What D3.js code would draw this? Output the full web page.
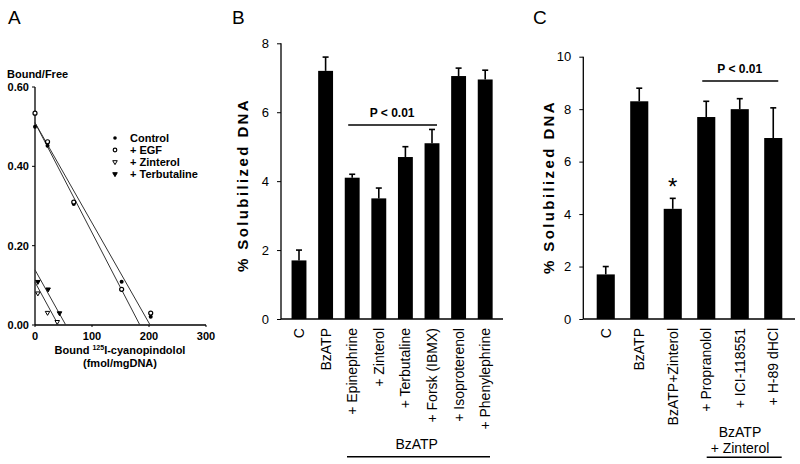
<!DOCTYPE html>
<html><head><meta charset="utf-8">
<script src="https://cdn.jsdelivr.net/npm/d3@7"></script>
<style>
body{margin:0;background:#fff;}
text{font-family:"Liberation Sans",Arial,sans-serif;fill:#000;}
</style></head><body>
<svg id="c" width="800" height="464"></svg>
<script>
// ---------- Panel A data (Scatchard) ----------
const aSeries = ["Control", "+ EGF", "+ Zinterol", "+ Terbutaline"];
const aControl = [[0,0.50],[22,0.452],[68,0.305],[152,0.109],[203,0.021]];
const aEGF = [[0,0.534],[22,0.462],[68,0.31],[152,0.09],[203,0.03]];
const aZinterol = [[5,0.08],[22,0.031],[39,0.008]];
const aTerbutaline = [[5,0.109],[23,0.09],[43,0.03]];
// fitted lines: [x0,y0,x1,y1]
const aLines = [[0,0.51,184,0],[0,0.51,202,0],[0,0.139,54,0],[0,0.108,41,0]];
const aXTicks = [0,100,200,300];
const aYTicks = [0,0.2,0.4,0.6];

// ---------- Panel B data ----------
const bCats = ["C","BzATP","+ Epinephrine","+ Zinterol","+ Terbutaline","+ Forsk (IBMX)","+ Isoproterenol","+ Phenylephrine"];
const bVals = [1.7,7.2,4.1,3.5,4.7,5.1,7.05,6.95];
const bErr  = [0.3,0.4,0.1,0.3,0.3,0.4,0.23,0.27];
const bTicks = [0,2,4,6,8];

// ---------- Panel C data ----------
const cCats = ["C","BzATP","BzATP+Zinterol","+ Propranolol","+ ICI-118551","+ H-89 dHCl"];
const cVals = [1.7,8.3,4.2,7.7,8.0,6.9];
const cErr  = [0.3,0.5,0.4,0.6,0.4,1.15];
const cTicks = [0,2,4,6,8,10];

const svg = d3.select("#c");

// panel letters
[["A",8,24],["B",232,24],["C",533,24]].forEach(d=>{
  svg.append("text").attr("x",d[1]).attr("y",d[2]).attr("font-size",19).text(d[0]);
});

// ================= Panel A =================
(function(){
  const x = d3.scaleLinear().domain([0,300]).range([35,206]);
  const y = d3.scaleLinear().domain([0,0.6]).range([325,87]);
  const g = svg.append("g");
  g.append("line").attr("x1",x(0)).attr("x2",x(0)).attr("y1",y(0)).attr("y2",y(0.6)).attr("stroke","#000").attr("stroke-width",1.3);
  g.append("line").attr("x1",x(0)).attr("x2",x(300)).attr("y1",y(0)).attr("y2",y(0)).attr("stroke","#000").attr("stroke-width",1.3);
  aYTicks.forEach(t=>{
    g.append("line").attr("x1",x(0)-3).attr("x2",x(0)).attr("y1",y(t)).attr("y2",y(t)).attr("stroke","#000");
    g.append("text").attr("x",29).attr("y",y(t)+4).attr("text-anchor","end").attr("font-size",11).attr("font-weight","bold").text(d3.format(".2f")(t));
  });
  aXTicks.forEach(t=>{
    g.append("line").attr("x1",x(t)).attr("x2",x(t)).attr("y1",y(0)).attr("y2",y(0)+2).attr("stroke","#000");
    g.append("text").attr("x",x(t)).attr("y",y(0)+15).attr("text-anchor","middle").attr("font-size",11).attr("font-weight","bold").text(t);
  });
  g.append("text").attr("x",7).attr("y",78).attr("font-size",11).attr("font-weight","bold").text("Bound/Free");
  const xl = g.append("text").attr("x",120).attr("y",354).attr("text-anchor","middle").attr("font-size",11).attr("font-weight","bold");
  xl.append("tspan").text("Bound ");
  xl.append("tspan").attr("font-size",7).attr("dy",-4).text("125");
  xl.append("tspan").attr("dy",4).text("I-cyanopindolol");
  g.append("text").attr("x",120).attr("y",367).attr("text-anchor","middle").attr("font-size",11).attr("font-weight","bold").text("(fmol/mgDNA)");

  aLines.forEach(l=>{
    g.append("line").attr("x1",x(l[0])).attr("y1",y(l[1])).attr("x2",x(l[2])).attr("y2",y(l[3])).attr("stroke","#333").attr("stroke-width",1);
  });
  const tri = d3.symbol().type(d3.symbolTriangle).size(9);
  function drawPts(data, kind){
    data.forEach(p=>{
      const cx=x(p[0]), cy=y(p[1]);
      if(kind===0) g.append("circle").attr("cx",cx).attr("cy",cy).attr("r",2).attr("fill","#000");
      else if(kind===1) g.append("circle").attr("cx",cx).attr("cy",cy).attr("r",2).attr("fill","#fff").attr("stroke","#000").attr("stroke-width",1.2);
      else g.append("path").attr("d",tri).attr("transform",`translate(${cx},${cy}) rotate(180)`).attr("fill",kind===3?"#000":"#fff").attr("stroke","#000").attr("stroke-width",1);
    });
  }
  drawPts(aControl,0); drawPts(aEGF,1); drawPts(aZinterol,2); drawPts(aTerbutaline,3);
  // legend
  aSeries.forEach((s,i)=>{
    const ly = 138 + i*12;
    const lx = 115;
    if(i===0) g.append("circle").attr("cx",lx).attr("cy",ly).attr("r",1.8).attr("fill","#000");
    else if(i===1) g.append("circle").attr("cx",lx).attr("cy",ly).attr("r",1.8).attr("fill","#fff").attr("stroke","#000").attr("stroke-width",1.2);
    else g.append("path").attr("d",tri).attr("transform",`translate(${lx},${ly}) rotate(180)`).attr("fill",i===3?"#000":"#fff").attr("stroke","#000").attr("stroke-width",1);
    g.append("text").attr("x",130).attr("y",ly+4).attr("font-size",11).attr("font-weight","bold").text(s);
  });
})();

// ================= Bar panels =================
function barPanel(o){
  const x = d3.scaleBand().domain(o.cats).range(o.xr).paddingInner(o.pad).paddingOuter(o.pad/2);
  const y = d3.scaleLinear().domain([0,o.ymax]).range([319,o.ytop]);
  const g = svg.append("g");
  // axes
  const ya = g.append("g").attr("transform",`translate(${o.axX},0)`).call(d3.axisLeft(y).tickValues(o.ticks).tickSize(4).tickPadding(8).tickFormat(d3.format("d")));
  ya.select(".domain").attr("d",`M0,${y(0)}V${y(o.ymax)}`).attr("stroke-width",1.3);
  ya.selectAll("text").attr("font-size",13).attr("font-family","Liberation Sans, Arial, sans-serif").attr("fill","#000");
  g.append("line").attr("x1",o.axX).attr("x2",o.axEnd).attr("y1",y(0)).attr("y2",y(0)).attr("stroke","#000").attr("stroke-width",1.5);
  // bars
  o.cats.forEach((c,i)=>{
    const bx = x(c), bw = x.bandwidth(), cx = bx + bw/2;
    g.append("rect").attr("x",bx).attr("y",y(o.vals[i])).attr("width",bw).attr("height",y(0)-y(o.vals[i])).attr("fill","#000");
    g.append("line").attr("x1",cx).attr("x2",cx).attr("y1",y(o.vals[i])).attr("y2",y(o.vals[i]+o.err[i])).attr("stroke","#000").attr("stroke-width",1.6);
    g.append("line").attr("x1",cx-3).attr("x2",cx+3).attr("y1",y(o.vals[i]+o.err[i])).attr("y2",y(o.vals[i]+o.err[i])).attr("stroke","#000").attr("stroke-width",1.6);
    g.append("text").attr("transform",`translate(${cx+5},328) rotate(-90)`).attr("text-anchor","end").attr("font-size",14).text(c);
  });
  // y label
  g.append("text").attr("transform",`translate(${o.labX},${o.labY}) rotate(-90)`).attr("text-anchor","middle").attr("font-size",15).attr("font-weight","bold").attr("letter-spacing",2.4).text("% Solubilized  DNA");
  // significance
  const p = o.sig;
  g.append("line").attr("x1",x(p.from)+x.bandwidth()/2-4).attr("x2",x(p.to)+x.bandwidth()/2+5).attr("y1",p.y).attr("y2",p.y).attr("stroke","#000").attr("stroke-width",1.4);
  g.append("text").attr("x",(x(p.from)+x(p.to)+x.bandwidth())/2).attr("y",p.y-8).attr("text-anchor","middle").attr("font-size",12).attr("font-weight","bold").text("P < 0.01");
  // group label
  const gl = o.group;
  gl.lines.forEach((t,k)=>{
    g.append("text").attr("x",gl.cx).attr("y",gl.y0+k*16).attr("text-anchor","middle").attr("font-size",14).text(t);
  });
  g.append("line").attr("x1",gl.x1).attr("x2",gl.x2).attr("y1",gl.ly).attr("y2",gl.ly).attr("stroke","#000").attr("stroke-width",1.5);
  return {x,y,g};
}

barPanel({cats:bCats, vals:bVals, err:bErr, ticks:bTicks, ymax:8, ytop:43.3,
  xr:[285.7,498.5], pad:0.44, axX:281, axEnd:503, labX:247.5, labY:185,
  sig:{from:"+ Epinephrine", to:"+ Forsk (IBMX)", y:125},
  group:{lines:["BzATP"], cx:416.7, y0:449, x1:347, x2:490, ly:456.7}});

const pc = barPanel({cats:cCats, vals:cVals, err:cErr, ticks:cTicks, ymax:10, ytop:56.7,
  xr:[589,790], pad:0.46, axX:583.3, axEnd:795, labX:553.5, labY:187,
  sig:{from:"+ Propranolol", to:"+ H-89 dHCl", y:81},
  group:{lines:["BzATP","+ Zinterol"], cx:740, y0:437, x1:706.7, x2:781.7, ly:457.3}});
// asterisk
pc.g.append("text").attr("x",pc.x("BzATP+Zinterol")+pc.x.bandwidth()/2).attr("y",pc.y(cVals[2]+cErr[2])-3).attr("text-anchor","middle").attr("font-size",24).text("*");
</script>
</body></html>
